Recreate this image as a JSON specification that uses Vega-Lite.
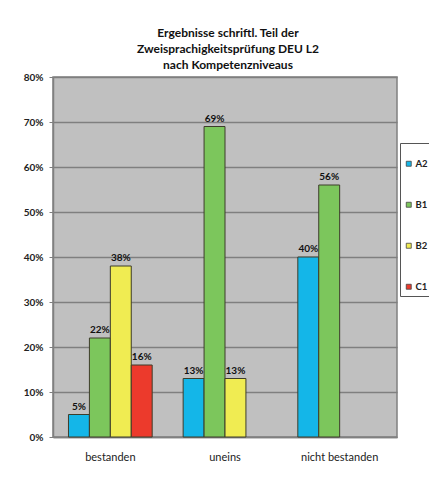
{
  "$schema": "https://vega.github.io/schema/vega-lite/v6.json",
  "autosize": "none",
  "width": 344,
  "height": 360,
  "padding": {"left": 53, "top": 77, "right": 32, "bottom": 44},
  "background": "white",
  "title": {
    "text": ["Ergebnisse schriftl. Teil der", "Zweisprachigkeitsprüfung DEU L2", "nach Kompetenzniveaus"],
    "anchor": "middle",
    "frame": "group",
    "dx": 3,
    "offset": 0,
    "font": "Lato",
    "fontSize": 12,
    "fontWeight": "bold",
    "lineHeight": 16,
    "color": "#111111"
  },
  "data": {
    "values": [
      {"ergebnis": "bestanden", "niveau": "A2", "anteil": 0.05},
      {"ergebnis": "bestanden", "niveau": "B1", "anteil": 0.22},
      {"ergebnis": "bestanden", "niveau": "B2", "anteil": 0.38},
      {"ergebnis": "bestanden", "niveau": "C1", "anteil": 0.16},
      {"ergebnis": "uneins", "niveau": "A2", "anteil": 0.13},
      {"ergebnis": "uneins", "niveau": "B1", "anteil": 0.69},
      {"ergebnis": "uneins", "niveau": "B2", "anteil": 0.13},
      {"ergebnis": "nicht bestanden", "niveau": "A2", "anteil": 0.40},
      {"ergebnis": "nicht bestanden", "niveau": "B1", "anteil": 0.56}
    ]
  },
  "encoding": {
    "x": {
      "field": "ergebnis",
      "type": "nominal",
      "sort": ["bestanden", "uneins", "nicht bestanden"],
      "scale": {"paddingInner": 0.27, "paddingOuter": 0.135},
      "axis": {
        "title": null,
        "labelAngle": 0,
        "ticks": false,
        "labelPadding": 14,
        "labelFont": "Lato",
        "labelFontSize": 11,
        "labelColor": "#222222",
        "domainColor": "#808080",
        "domainWidth": 1.5
      }
    },
    "xOffset": {
      "field": "niveau",
      "type": "nominal",
      "scale": {"domain": ["A2", "B1", "B2", "C1"], "paddingInner": 0, "paddingOuter": 0}
    },
    "y": {
      "field": "anteil",
      "type": "quantitative",
      "scale": {"domain": [0, 0.8], "nice": false},
      "axis": {
        "title": null,
        "format": ".0%",
        "values": [0, 0.1, 0.2, 0.3, 0.4, 0.5, 0.6, 0.7, 0.8],
        "labelOverlap": false,
        "grid": true,
        "gridColor": "#7f7f7f",
        "gridWidth": 1.5,
        "tickColor": "#7f7f7f",
        "tickSize": 4,
        "labelPadding": 6,
        "labelFont": "Lato",
        "labelFontSize": 10,
        "labelFontWeight": "bold",
        "labelColor": "#222222",
        "domainColor": "#808080",
        "domainWidth": 1.5
      }
    }
  },
  "layer": [
    {
      "mark": {"type": "bar", "stroke": "#3d3d2a", "strokeWidth": 1},
      "encoding": {
        "color": {
          "field": "niveau",
          "type": "nominal",
          "scale": {"domain": ["A2", "B1", "B2", "C1"], "range": ["#14b6e8", "#7cc65c", "#f0ec52", "#ec3a2c"]},
          "legend": {
            "title": " ",
            "titleFontSize": 10,
            "titlePadding": 2,
            "orient": "none",
            "legendX": 347,
            "legendY": 66,
            "padding": 4,
            "rowPadding": 30,
            "fillColor": "white",
            "strokeColor": "#555555",
            "symbolType": "square",
            "symbolSize": 25,
            "symbolStrokeColor": "#444444",
            "symbolStrokeWidth": 0.8,
            "labelFont": "Lato",
            "labelFontSize": 9.5,
            "labelFontWeight": "bold",
            "labelColor": "#222222",
            "labelOffset": 2
          }
        }
      }
    },
    {
      "mark": {"type": "text", "baseline": "bottom", "dy": -3, "font": "Lato", "fontSize": 10, "fontWeight": "bold", "color": "#111111"},
      "encoding": {
        "text": {"field": "anteil", "type": "quantitative", "format": ".0%"}
      }
    }
  ],
  "config": {
    "view": {"fill": "#c0c0c0", "stroke": "#808080", "strokeWidth": 1.5}
  }
}
